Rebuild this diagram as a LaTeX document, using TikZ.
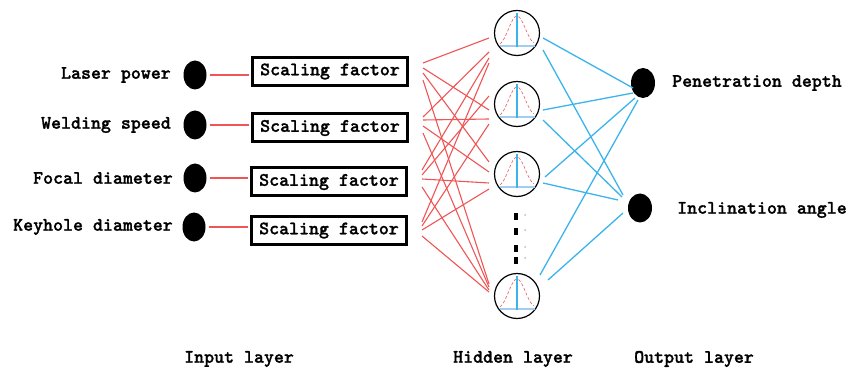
\documentclass[tikz,border=0pt]{standalone}
\usepackage{fontspec}
\newfontfamily\reffont{lmmonolt10-bold.otf}[FakeBold=1.2]
\usetikzlibrary{shapes.geometric,calc}
\definecolor{redl}{RGB}{240,85,85}
\definecolor{bluel}{RGB}{60,180,235}
\definecolor{bluelight}{RGB}{160,205,240}
\begin{document}
\begin{tikzpicture}[x=1pt,y=-1pt,
  txt/.style={font=\fontsize{19}{19}\selectfont\reffont\bfseries, inner sep=0pt},
  dot/.style={ellipse, fill=black, inner sep=0pt, minimum width=23pt, minimum height=29pt},
  sbox/.style={txt, draw, line width=3pt, minimum width=155pt, minimum height=28pt, inner sep=0pt},
  neuron/.style={circle, draw, line width=1.2pt, minimum size=45pt, inner sep=0pt},
  vdot/.style={rectangle, fill=black, inner sep=0pt, minimum width=4pt, minimum height=7pt},
  gdot/.style={circle, fill=black!25, inner sep=0pt, minimum size=2pt},
  rline/.style={redl, line width=1.1pt},
  bline/.style={bluel, line width=1.3pt}]
\useasboundingbox (0,0) rectangle (861,371);

% input layer
\node[dot] (d1) at (195,75) {};
\node[dot] (d2) at (195,125) {};
\node[dot] (d3) at (195,178) {};
\node[dot] (d4) at (194,227) {};
\node[txt, anchor=east] (l1) at (171,75) {Laser power};
\node[txt, anchor=east] (l2) at (171,125) {Welding speed};
\node[txt, anchor=east] (l3) at (173,178) {Focal diameter};
\node[txt, anchor=east] (l4) at (173,227) {Keyhole diameter};

\node[sbox] (b1) at (330,71.5) {Scaling factor};
\node[sbox] (b2) at (330,128) {Scaling factor};
\node[sbox] (b3) at (329,182) {Scaling factor};
\node[sbox] (b4) at (329,230.5) {Scaling factor};

\foreach \i in {1,2,3,4}{
  \draw[rline] ($(d\i.east)+(3,0)$) -- ($(d\i.east -| b\i.west)+(-2,0)$);
}

% hidden layer
\node[neuron] (h1) at (517,33) {};
\node[neuron] (h2) at (517,104) {};
\node[neuron] (h3) at (517,174) {};
\node[neuron] (h4) at (517,296) {};
\foreach \h in {h1,h2,h3,h4}{
  \begin{scope}[shift={(\h.center)}]
    \draw[redl, densely dashed, line width=0.6pt] (-17,11) .. controls (-10,6) and (-6,-17) .. (0,-17) .. controls (6,-17) and (10,6) .. (17,10);
    \draw[bluelight, line width=1.8pt] (-17,13) -- (18,13);
    \draw[bluel, line width=1.8pt] (0,-20) -- (0,13.9);
  \end{scope}
}
\node[vdot] (v1) at (516,217) {};
\node[vdot] (v2) at (516,232) {};
\node[vdot] (v3) at (516,248) {};
\node[vdot] (v4) at (516,260) {};
\node[gdot] (g1) at (525,215) {};
\node[gdot] (g2) at (525,230) {};
\node[gdot] (g3) at (525,247) {};
\node[gdot] (g4) at (525,258) {};

% output layer
\node[dot, minimum width=24pt, minimum height=30pt] (o1) at (643,83) {};
\node[dot, minimum width=24pt, minimum height=29pt] (o2) at (640,208) {};
\node[txt, anchor=west] (p1) at (672,83) {Penetration depth};
\node[txt, anchor=west] (p2) at (677,210) {Inclination angle};

% red connections box -> hidden
\foreach \b/\n/\sy/\ey in {
  b1/h1/-8.5/5, b1/h2/-3.5/6, b1/h3/1.5/-12, b1/h4/8.5/-12,
  b2/h1/-11/19, b2/h2/-8/15, b2/h3/-2/-2, b2/h4/5/-9,
  b3/h1/-12/25, b3/h2/-7/-8, b3/h3/-3/9, b3/h4/5/-6,
  b4/h1/-8.5/30, b4/h2/-4.5/20, b4/h3/-0.5/15, b4/h4/5.5/-4}{
  \draw[rline] ($(\b.east)+(14,\sy)$) -- ($(\n.center)+(-28,\ey)$);
}

% blue connections hidden -> output
\foreach \n/\hx/\hy/\o/\ox/\oy in {
  h1/26/5/o1/-10/5, h1/26/17/o2/-17/-13,
  h2/26/6/o1/-10/10, h2/26/16/o2/-18/-11,
  h3/28/3/o1/-8/15, h3/26/9/o2/-22/-8,
  h4/23/-21/o1/-5/17, h4/31/-16/o2/-17/5}{
  \draw[bline] ($(\n.center)+(\hx,\hy)$) -- ($(\o.center)+(\ox,\oy)$);
}

% layer captions
\node[txt, anchor=west] (c1) at (184,359) {Input layer};
\node[txt, anchor=west] (c2) at (453,359) {Hidden layer};
\node[txt, anchor=west] (c3) at (634,359) {Output layer};
\end{tikzpicture}
\end{document}
